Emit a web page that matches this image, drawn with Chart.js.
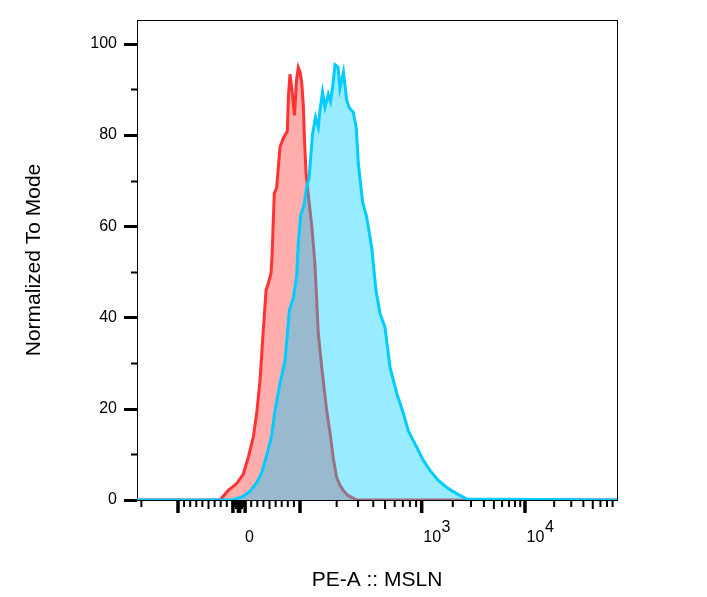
<!DOCTYPE html>
<html>
<head>
<meta charset="utf-8">
<script src="https://cdn.jsdelivr.net/npm/chart.js@4.4.0/dist/chart.umd.min.js"></script>
<style>
  html, body { margin: 0; padding: 0; background: #fff; }
  #wrap { width: 707px; height: 597px; }
</style>
</head>
<body>
<div id="wrap"><canvas id="histChart" width="707" height="597"></canvas></div>
<script>
// x in display channels (0-1000 across the biex axis), y in % of mode
var redX = [0, 172.9, 190.2, 207.7, 221.5, 231.9, 242.3, 249.4, 256.3, 263.1, 268.8, 273.5, 279.2, 281.3, 286.0, 291.0, 297.9, 304.8, 313.1, 315.6, 318.8, 322.9, 328.1, 332.3, 336.0, 339.6, 343.1, 346.5, 349.0, 352.1, 356.9, 364.0, 370.8, 377.7, 384.8, 395.2, 402.1, 409.0, 416.0, 422.9, 429.8, 439.6, 457.7, 1000];
var redY = [0, 0, 2.1, 3.6, 5.7, 9.4, 13.8, 19.0, 26.2, 37.2, 45.9, 47.5, 49.7, 53.4, 67.2, 68.5, 77.3, 79.3, 80.8, 88.7, 93.3, 89.8, 84.3, 92.0, 94.8, 93.8, 91.6, 86.5, 78.8, 71.8, 66.8, 60.2, 51.6, 36.5, 29.1, 19.6, 14.8, 9.1, 4.9, 3.2, 2.1, 1.0, 0, 0];

var blueX = [0, 200, 220.8, 235.4, 249.4, 259.8, 270.2, 280.6, 287.5, 297.9, 308.3, 313.1, 317.3, 325.6, 332.7, 336.0, 341.0, 347.9, 353.5, 358.3, 366.0, 371.9, 377.7, 381.3, 386.5, 391.7, 398.5, 403.1, 407.7, 412.5, 418.8, 422.9, 430.2, 436.9, 442.3, 450.6, 456.9, 461.0, 470.2, 478.5, 488.9, 497.9, 506.3, 516.7, 527.1, 541.0, 554.8, 565.2, 575.6, 586.0, 596.5, 610.4, 627.7, 648.5, 666.0, 686.9, 1000];
var blueY = [0, 0, 0.8, 1.9, 3.8, 6.0, 9.8, 14.1, 19.6, 25.5, 30.6, 36.1, 41.6, 44.2, 49.2, 56.3, 62.4, 64.6, 68.6, 70.5, 80.4, 83.9, 81.7, 85.4, 89.4, 86.1, 88.9, 87.4, 90.5, 95.4, 94.9, 90.2, 93.8, 87.6, 85.9, 85.0, 81.5, 73.8, 65.2, 62.0, 55.4, 45.9, 40.9, 37.8, 29.1, 23.4, 19.0, 15.2, 13.0, 10.9, 8.7, 6.5, 4.3, 2.5, 1.4, 0.2, 0];

// tick labels
var yLabelValues = [0, 20, 40, 60, 80, 100];
var yTickLabels = ["0", "20", "40", "60", "80", "100"];
var yMinorValues = [10, 30, 50, 70, 90];
var xLabelValues = [0, 1000, 10000];
var xTickLabels = ["0", "10^3", "10^4"];

// biex display: linear around zero, log decades above |100|
var ZERO_CH = 212.5;
var LIN_CH = 1.271;
var DECADE_CH = [253.5, 215.2, 202.1];
function toChannel(v) {
  var a = Math.abs(v);
  if (a <= 100) return ZERO_CH + v * LIN_CH;
  var off = 100 * LIN_CH;
  var d = Math.log10(a) - 2;
  for (var i = 0; d > 0; i++) {
    off += Math.min(d, 1) * DECADE_CH[Math.min(i, DECADE_CH.length - 1)];
    d -= 1;
  }
  return ZERO_CH + Math.sign(v) * off;
}

// k*10^n ticks on both sides of zero
var xTicks = [{v: 0, kind: "major"}];
for (var n = 0; n <= 4; n++) {
  for (var k = 1; k <= 9; k++) {
    [1, -1].forEach(function (s) {
      var v = s * k * Math.pow(10, n);
      var c = toChannel(v);
      if (c >= 0 && c <= 1000) xTicks.push({v: v, kind: k === 1 ? "major" : (k === 5 ? "mid" : "minor")});
    });
  }
}

function pts(xs, ys) {
  return xs.map(function (x, i) { return {x: x, y: ys[i]}; });
}

var FONT = "'Liberation Sans', Arial, sans-serif";
Chart.defaults.color = "#000";
Chart.defaults.font.family = FONT;

// frame + tick marks
var frameTicks = {
  id: "frameTicks",
  beforeDatasetsDraw: function (chart) {
    var ctx = chart.ctx, a = chart.chartArea, xs = chart.scales.x, ys = chart.scales.y;
    ctx.save();
    ctx.strokeStyle = "#000";
    ctx.lineWidth = 1;
    ctx.strokeRect(a.left + 0.5, a.top + 0.5, a.right - a.left, a.bottom - a.top);

    function yTick(v, len, w) {
      var py = Math.round(ys.getPixelForValue(v));
      ctx.lineWidth = w;
      ctx.beginPath();
      ctx.moveTo(a.left - len, py + 0.5);
      ctx.lineTo(a.left, py + 0.5);
      ctx.stroke();
    }
    yLabelValues.forEach(function (v) { yTick(v, 13, 3); });
    yMinorValues.forEach(function (v) { yTick(v, 6, 2); });

    xTicks.forEach(function (t) {
      var px = xs.getPixelForValue(toChannel(t.v));
      var len = t.kind === "major" ? 12 : (t.kind === "mid" ? 8 : 6);
      ctx.lineWidth = t.kind === "major" ? 3.5 : 2;
      ctx.beginPath();
      ctx.moveTo(px, a.bottom + 1);
      ctx.lineTo(px, a.bottom + 1 + len);
      ctx.stroke();
    });
    ctx.restore();
  },
  afterDraw: function (chart) {
    var ctx = chart.ctx, xs = chart.scales.x;
    ctx.save();
    ctx.fillStyle = "#000";
    ctx.font = "16px " + FONT;
    ctx.textBaseline = "alphabetic";
    xLabelValues.forEach(function (v, i) {
      var parts = xTickLabels[i].split("^");
      var px = xs.getPixelForValue(toChannel(v)) + 10.5;
      var wb = ctx.measureText(parts[0]).width;
      ctx.textAlign = "left";
      ctx.fillText(parts[0], px - wb / 2, 542);
      if (parts[1]) ctx.fillText(parts[1], px + wb / 2 + 0.5, 532);
    });
    ctx.restore();
  }
};

var ctx = document.getElementById("histChart");
var histChart = new Chart(ctx, {
  type: "line",
  data: {
    datasets: [
      {
        label: "MSLN",
        data: pts(blueX, blueY),
        borderColor: "rgb(0,204,255)",
        backgroundColor: "rgba(0,204,255,0.4)",
        borderWidth: 3,
        fill: "origin",
        pointRadius: 0,
        tension: 0
      },
      {
        label: "Isotype",
        data: pts(redX, redY),
        borderColor: "rgb(255,51,51)",
        backgroundColor: "rgba(255,51,51,0.4)",
        borderWidth: 3,
        fill: "origin",
        pointRadius: 0,
        tension: 0
      }
    ]
  },
  options: {
    responsive: false,
    animation: false,
    layout: { padding: { top: 20, right: 90, left: 0, bottom: 0 } },
    plugins: {
      legend: { display: false },
      tooltip: { enabled: false }
    },
    scales: {
      x: {
        type: "linear",
        min: 0,
        max: 1000,
        grid: { display: false, drawTicks: false },
        border: { display: false },
        ticks: { display: false },
        title: {
          display: true,
          text: "PE-A :: MSLN",
          font: { size: 21 },
          padding: { top: 0, bottom: 4 }
        },
        afterFit: function (s) {
          s.height = 97;
          s.paddingLeft = 0; s.paddingRight = 0;
        }
      },
      y: {
        type: "linear",
        min: 0,
        max: 105.2,
        grid: { display: false, drawTicks: false },
        border: { display: false },
        afterBuildTicks: function (s) {
          s.ticks = yLabelValues.map(function (v) { return {value: v}; });
        },
        ticks: {
          padding: 20,
          font: { size: 16 },
          callback: function (v, i) { return yTickLabels[i]; }
        },
        title: {
          display: true,
          text: "Normalized To Mode",
          font: { size: 21 },
          padding: { top: 22, bottom: 0 }
        },
        afterFit: function (s) {
          s.width = 137;
          s.paddingTop = 0; s.paddingBottom = 0;
        }
      }
    }
  },
  plugins: [frameTicks]
});
</script>
</body>
</html>
